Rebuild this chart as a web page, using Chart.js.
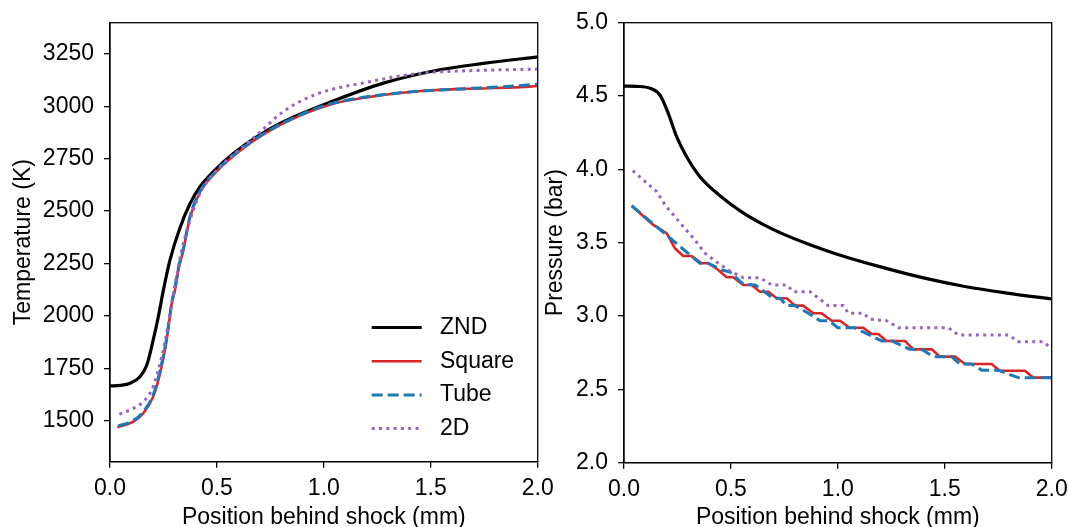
<!DOCTYPE html>
<html><head><meta charset="utf-8">
<script src="https://cdn.jsdelivr.net/npm/chart.js@4.4.1/dist/chart.umd.min.js"></script>
<style>
html,body{margin:0;padding:0;background:#fff;width:1069px;height:527px;overflow:hidden}
#wrap{position:relative;width:1069px;height:527px}
canvas{position:absolute;top:0}
#c1{left:0}
#c2{left:530px}
</style></head><body>
<div id="wrap"><canvas id="c1" width="560" height="527"></canvas><canvas id="c2" width="539" height="527"></canvas></div>
<script>
// ---------- DATA ----------
const seriesLabels = ['ZND', 'Square', 'Tube', '2D'];
const xTicks = [0, 0.5, 1.0, 1.5, 2.0];
const tempTicks = [1500, 1750, 2000, 2250, 2500, 2750, 3000, 3250];
const presTicks = [2.0, 2.5, 3.0, 3.5, 4.0, 4.5, 5.0];

// Temperature (K) vs position (mm)
const zndTempX = [0, 0.05, 0.094, 0.14, 0.172, 0.202, 0.226, 0.249, 0.28, 0.327, 0.374, 0.421, 0.499, 0.577, 0.686, 0.811, 1.044, 1.278, 1.512, 1.746, 2.0];
const zndTempY = [1667, 1670, 1680, 1711, 1767, 1886, 1997, 2120, 2265, 2420, 2535, 2616, 2704, 2775, 2854, 2926, 3025, 3110, 3168, 3204, 3235];
const squareTempX = [0.034, 0.109, 0.156, 0.202, 0.234, 0.265, 0.289, 0.304, 0.32, 0.343, 0.374, 0.421, 0.499, 0.608, 0.733, 0.888, 1.044, 1.2, 1.356, 1.512, 1.668, 1.886, 2.0];
const squareTempY = [1470, 1497, 1537, 1616, 1727, 1886, 2060, 2124, 2220, 2315, 2470, 2590, 2690, 2788, 2875, 2955, 3012, 3042, 3063, 3076, 3083, 3089, 3096];
const tubeTempX = [0.039, 0.109, 0.156, 0.202, 0.234, 0.265, 0.289, 0.304, 0.32, 0.343, 0.374, 0.421, 0.499, 0.608, 0.733, 0.888, 1.044, 1.2, 1.356, 1.512, 1.668, 1.886, 2.0];
const tubeTempY = [1476, 1502, 1545, 1625, 1740, 1895, 2065, 2135, 2230, 2320, 2475, 2595, 2693, 2792, 2878, 2958, 3015, 3045, 3064, 3076, 3084, 3096, 3105];
const twoDTempX = [0.044, 0.109, 0.156, 0.195, 0.226, 0.249, 0.273, 0.289, 0.33, 0.36, 0.421, 0.499, 0.608, 0.686, 0.811, 0.967, 1.2, 1.434, 1.668, 2.0];
const twoDTempY = [1532, 1560, 1592, 1648, 1743, 1838, 1965, 2060, 2290, 2410, 2585, 2695, 2795, 2862, 2975, 3058, 3114, 3155, 3169, 3177];

// Pressure (bar) vs position (mm)
const zndPresX = [0, 0.06, 0.122, 0.168, 0.207, 0.246, 0.293, 0.355, 0.449, 0.55, 0.65, 0.75, 0.854, 1.0, 1.2, 1.4, 1.6, 1.8, 2.0];
const zndPresY = [4.568, 4.566, 4.553, 4.507, 4.382, 4.223, 4.086, 3.95, 3.82, 3.71, 3.625, 3.555, 3.495, 3.42, 3.335, 3.26, 3.2, 3.155, 3.116];
const squarePresX = [0.036, 0.137, 0.2, 0.238, 0.277, 0.316, 0.363, 0.394, 0.441, 0.48, 0.511, 0.558, 0.597, 0.636, 0.675, 0.714, 0.761, 0.8, 0.838, 0.885, 0.924, 0.971, 1.01, 1.055, 1.119, 1.158, 1.189, 1.228, 1.314, 1.353, 1.439, 1.478, 1.548, 1.595, 1.719, 1.758, 1.875, 1.914, 2.0];
const squarePresY = [3.752, 3.621, 3.564, 3.462, 3.409, 3.409, 3.36, 3.36, 3.314, 3.264, 3.264, 3.212, 3.212, 3.166, 3.166, 3.121, 3.121, 3.071, 3.071, 3.019, 3.019, 2.968, 2.968, 2.92, 2.92, 2.877, 2.877, 2.83, 2.83, 2.773, 2.773, 2.723, 2.723, 2.673, 2.673, 2.627, 2.627, 2.58, 2.58];
const tubePresX = [0.036, 0.355, 0.394, 0.457, 0.496, 0.558, 0.613, 0.698, 0.73, 0.761, 0.8, 0.862, 0.917, 0.96, 1.0, 1.079, 1.205, 1.252, 1.337, 1.392, 1.446, 1.532, 1.571, 1.626, 1.673, 1.75, 1.844, 2.0];
const tubePresY = [3.752, 3.36, 3.36, 3.314, 3.30, 3.216, 3.212, 3.121, 3.121, 3.071, 3.071, 3.019, 2.968, 2.968, 2.92, 2.92, 2.83, 2.83, 2.773, 2.773, 2.723, 2.723, 2.673, 2.673, 2.631, 2.631, 2.58, 2.58];
const twoDPresX = [0.041, 0.09, 0.153, 0.192, 0.262, 0.332, 0.379, 0.441, 0.496, 0.558, 0.636, 0.691, 0.761, 0.792, 0.87, 0.955, 1.026, 1.049, 1.119, 1.15, 1.228, 1.283, 1.517, 1.564, 1.798, 1.844, 1.961, 2.0];
const twoDPresY = [3.991, 3.928, 3.848, 3.757, 3.636, 3.518, 3.428, 3.36, 3.307, 3.261, 3.261, 3.212, 3.212, 3.166, 3.166, 3.071, 3.071, 3.019, 3.019, 2.978, 2.968, 2.92, 2.92, 2.871, 2.871, 2.825, 2.825, 2.775];

// ---------- STYLE ----------
const FONT = "'Liberation Sans', Arial, Helvetica, sans-serif";
const FS = 23;
const styles = [
  {color: '#000000', width: 3.2, dash: [], order: 4},
  {color: '#d62728', width: 2.6, dash: [], order: 3},
  {color: '#1f77b4', width: 3, dash: [11, 5], order: 2},
  {color: '#9467bd', width: 3, dash: [3, 4.3], order: 1}
];
const zip = (xs, ys) => xs.map((x, i) => ({x, y: ys[i]}));

function makeDatasets(pairs, smooth) {
  return pairs.map((p, i) => ({
    label: seriesLabels[i],
    data: zip(p[0], p[1]),
    borderColor: styles[i].color,
    backgroundColor: styles[i].color,
    borderWidth: styles[i].width,
    borderDash: styles[i].dash,
    borderCapStyle: 'butt',
    borderJoinStyle: 'round',
    order: styles[i].order,
    pointRadius: 0,
    fill: false,
    cubicInterpolationMode: smooth[i] ? 'monotone' : 'default',
    tension: 0
  }));
}

const framePlugin = {
  id: 'frame',
  afterDraw(chart) {
    const a = chart.chartArea, ctx = chart.ctx;
    ctx.save();
    ctx.strokeStyle = '#000';
    ctx.lineWidth = 1.3;
    ctx.strokeRect(a.left, a.top, a.right - a.left, a.bottom - a.top);
    ctx.restore();
  }
};

const legendPlugin = {
  id: 'insideLegend',
  afterDraw(chart, args, opts) {
    if (!opts || !opts.show) return;
    const ctx = chart.ctx, a = chart.chartArea;
    ctx.save();
    chart.data.datasets.forEach((ds, i) => {
      const y = a.top + opts.top + i * opts.rowGap;
      const x0 = a.left + opts.left;
      ctx.beginPath();
      ctx.setLineDash(ds.borderDash || []);
      ctx.lineWidth = ds.borderWidth;
      ctx.strokeStyle = ds.borderColor;
      ctx.lineCap = 'butt';
      ctx.moveTo(x0, y);
      ctx.lineTo(x0 + opts.lineLen, y);
      ctx.stroke();
      ctx.setLineDash([]);
      ctx.fillStyle = '#000';
      ctx.font = FS + 'px ' + FONT;
      ctx.textBaseline = 'middle';
      ctx.textAlign = 'left';
      ctx.fillText(ds.label, x0 + opts.lineLen + opts.gap, y);
    });
    ctx.restore();
  }
};

function makeChart(el, cfg) {
  return new Chart(document.getElementById(el), {
    type: 'line',
    data: {datasets: cfg.datasets},
    plugins: [framePlugin, legendPlugin],
    options: {
      responsive: false,
      animation: false,
      devicePixelRatio: 1,
      layout: {padding: {top: 22.7, right: cfg.rightPad, left: 0, bottom: 0}},
      plugins: {
        legend: {display: false},
        tooltip: {enabled: false},
        insideLegend: cfg.legend || {show: false}
      },
      scales: {
        x: {
          type: 'linear', min: 0, max: 2,
          afterBuildTicks: s => { s.ticks = xTicks.map(v => ({value: v})); },
          afterFit: s => { s.height = cfg.xAxisHeight; s.paddingLeft = 0; s.paddingRight = 0; },
          grid: {drawOnChartArea: false, drawTicks: true, tickLength: 6, color: '#000', lineWidth: 1.3},
          border: {display: true, color: '#000', width: 1.3},
          ticks: {
            autoSkip: false, maxRotation: 0, padding: 7,
            color: '#000', font: {family: FONT, size: FS},
            callback: v => Number(v).toFixed(1)
          },
          title: {
            display: true, text: 'Position behind shock (mm)', color: '#000',
            font: {family: FONT, size: FS, lineHeight: 1},
            padding: {top: 0, bottom: -2.5}
          }
        },
        y: {
          type: 'linear', min: cfg.yMin, max: cfg.yMax,
          afterBuildTicks: s => { s.ticks = cfg.yTicks.map(v => ({value: v})); },
          afterFit: s => { s.width = cfg.yAxisWidth; s.paddingTop = 0; s.paddingBottom = 0; },
          grid: {drawOnChartArea: false, drawTicks: true, tickLength: 6, color: '#000', lineWidth: 1.3},
          border: {display: true, color: '#000', width: 1.3},
          ticks: {
            autoSkip: false, padding: 10,
            color: '#000', font: {family: FONT, size: FS},
            callback: cfg.yFmt
          },
          title: {
            display: true, text: cfg.yTitle, color: '#000',
            font: {family: FONT, size: FS, lineHeight: 1},
            padding: {top: cfg.yTitlePad, bottom: 0}
          }
        }
      }
    }
  });
}

makeChart('c1', {
  datasets: makeDatasets([
    [zndTempX, zndTempY], [squareTempX, squareTempY], [tubeTempX, tubeTempY], [twoDTempX, twoDTempY]
  ], [true, true, true, true]),
  yMin: 1306, yMax: 3398, yTicks: tempTicks,
  yTitle: 'Temperature (K)', yTitlePad: 11.8,
  yAxisWidth: 110, xAxisHeight: 65.3, rightPad: 22.3,
  yFmt: v => String(Math.round(v)),
  legend: {show: true, left: 261.7, top: 304.8, rowGap: 33.7, lineLen: 50, gap: 18.3}
});

makeChart('c2', {
  datasets: makeDatasets([
    [zndPresX, zndPresY], [squarePresX, squarePresY], [tubePresX, tubePresY], [twoDPresX, twoDPresY]
  ], [true, false, false, false]),
  yMin: 2.0, yMax: 5.0, yTicks: presTicks,
  yTitle: 'Pressure (bar)', yTitlePad: 14.5,
  yAxisWidth: 94, xAxisHeight: 64.3, rightPad: 17.3,
  yFmt: v => Number(v).toFixed(1)
});
</script>
</body></html>
